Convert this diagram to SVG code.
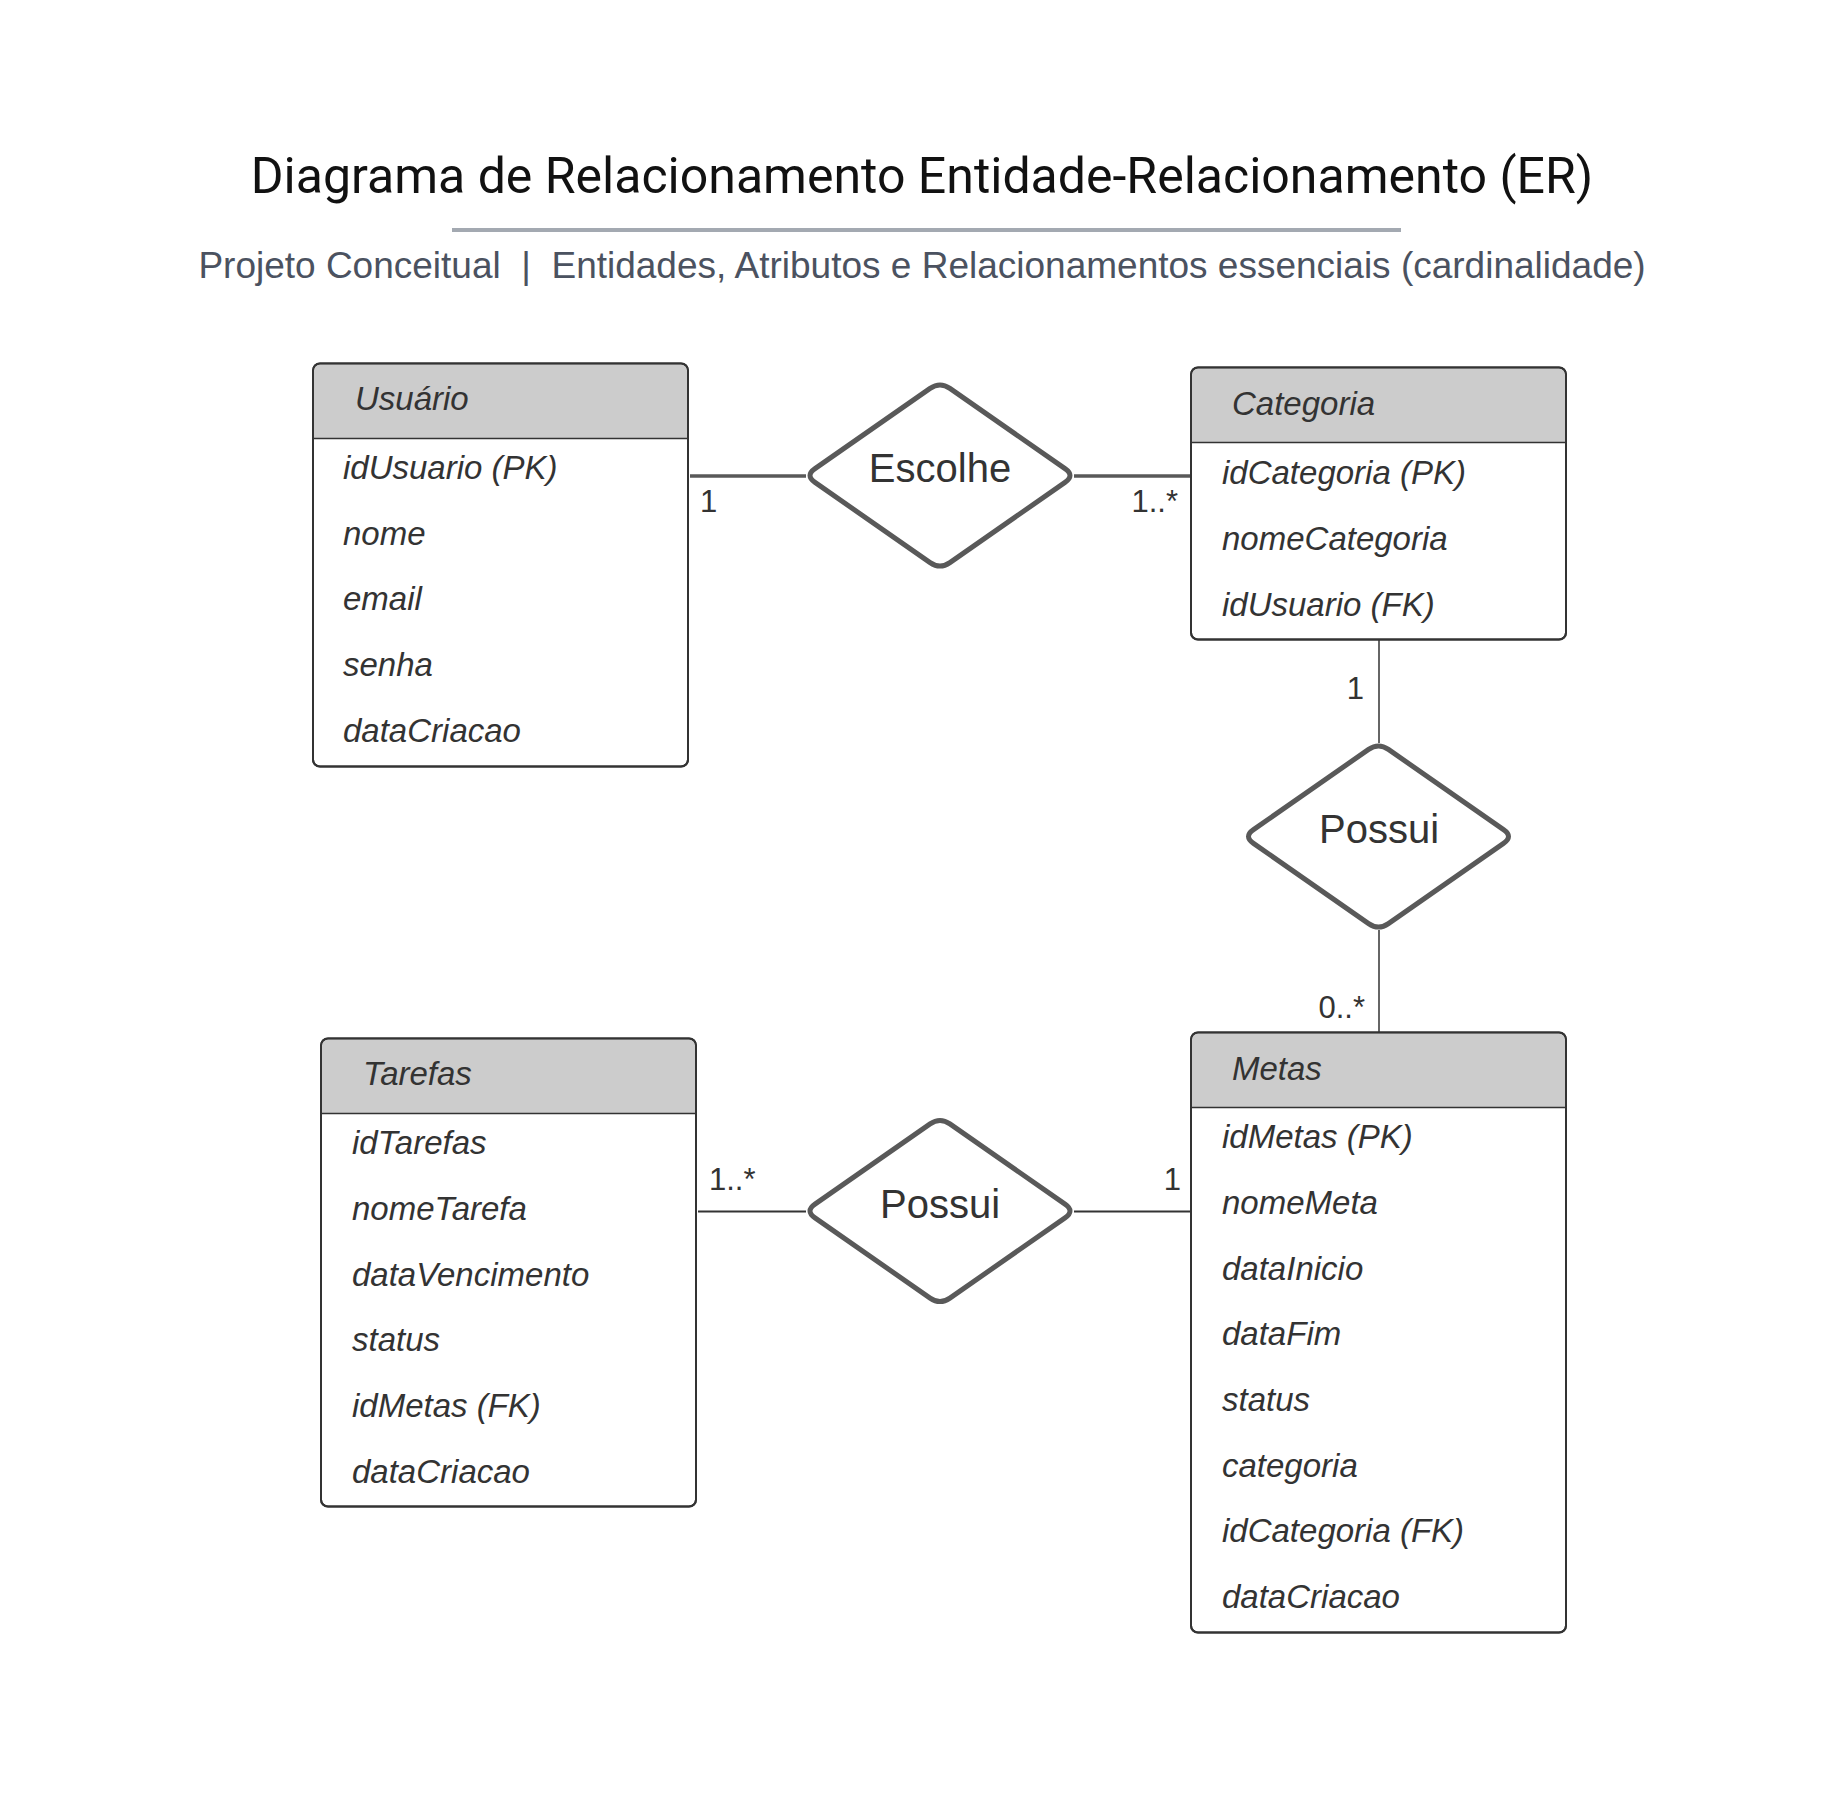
<svg xmlns="http://www.w3.org/2000/svg" width="1839" height="1796" viewBox="0 0 1839 1796">
<style>
.title{font-family:Roboto,"Liberation Sans",sans-serif;font-size:50px;fill:#111111}
.sub{font-family:"Liberation Sans",Arial,sans-serif;font-size:37px;fill:#4B5260;white-space:pre}
.box{fill:#FFFFFF;stroke:#333333;stroke-width:2}
.hdr{fill:#CCCCCC}
.sep{stroke:#333333;stroke-width:1.5}
.ent{font-family:"Liberation Sans",Arial,sans-serif;font-size:33px;font-style:italic;fill:#333333}
.rel{font-family:"Liberation Sans",Arial,sans-serif;font-size:40px;fill:#333333;text-anchor:middle}
.card{font-family:"Liberation Sans",Arial,sans-serif;font-size:31px;fill:#333333}
.thick{stroke:#595959;stroke-width:3.5;fill:none}
.thin{stroke:#333333;stroke-width:1.5;fill:none}
.dia{fill:#FFFFFF;stroke:#595959;stroke-width:5;stroke-linejoin:round}
</style>
<defs>
<path id="diamond" d="M -125,-6.9 L -9.9,-87.1 Q 0,-94 9.9,-87.1 L 125,-6.9 Q 135,0 125,6.9 L 9.9,87.1 Q 0,94 -9.9,87.1 L -125,6.9 Q -135,0 -125,-6.9 Z"/>
</defs>
<rect x="0" y="0" width="1839" height="1796" fill="#FFFFFF"/>

<g id="header">
<text class="title" x="922" y="193" text-anchor="middle">Diagrama de Relacionamento Entidade-Relacionamento (ER)</text>
<line x1="452" y1="230" x2="1401" y2="230" stroke="#A3A9B1" stroke-width="4"/>
<text class="sub" x="922" y="278" text-anchor="middle">Projeto Conceitual  |  Entidades, Atributos e Relacionamentos essenciais (cardinalidade)</text>
</g>

<g id="connectors">
<line class="thick" x1="690" y1="476" x2="806" y2="476"/>
<line class="thick" x1="1074" y1="476" x2="1191" y2="476"/>
<line class="thin" x1="1379" y1="639" x2="1379" y2="743"/>
<line class="thin" x1="1379" y1="930" x2="1379" y2="1032"/>
<line class="thin" x1="698" y1="1211.5" x2="806" y2="1211.5" style="stroke-width:2"/>
<line class="thin" x1="1074" y1="1211.5" x2="1191" y2="1211.5" style="stroke-width:2"/>
<text class="card" x="700" y="512">1</text>
<text class="card" x="1178" y="512" text-anchor="end">1..*</text>
<text class="card" x="1364" y="699" text-anchor="end">1</text>
<text class="card" x="1365" y="1018" text-anchor="end">0..*</text>
<text class="card" x="709" y="1190">1..*</text>
<text class="card" x="1181" y="1190" text-anchor="end">1</text>
</g>

<g id="usuario">
<rect class="box" x="313" y="363.5" width="375" height="403" rx="7"/>
<path class="hdr" d="M 320,364.5 H 681 A 6 6 0 0 1 687,370.5 V 438 H 314 V 370.5 A 6 6 0 0 1 320,364.5 Z"/>
<line class="sep" x1="313" y1="438.5" x2="688" y2="438.5"/>
<rect x="313" y="363.5" width="375" height="403" rx="7" fill="none" stroke="#333333" stroke-width="2"/>
<text class="ent" x="355" y="410">Usuário</text>
<text class="ent" x="343" y="479">idUsuario (PK)</text>
<text class="ent" x="343" y="545">nome</text>
<text class="ent" x="343" y="610">email</text>
<text class="ent" x="343" y="676">senha</text>
<text class="ent" x="343" y="742">dataCriacao</text>
</g>

<g id="categoria">
<rect class="box" x="1191" y="367.5" width="375" height="272" rx="7"/>
<path class="hdr" d="M 1198,368.5 H 1559 A 6 6 0 0 1 1565,374.5 V 442 H 1192 V 374.5 A 6 6 0 0 1 1198,368.5 Z"/>
<line class="sep" x1="1191" y1="442.5" x2="1566" y2="442.5"/>
<rect x="1191" y="367.5" width="375" height="272" rx="7" fill="none" stroke="#333333" stroke-width="2"/>
<text class="ent" x="1232" y="415">Categoria</text>
<text class="ent" x="1222" y="484">idCategoria (PK)</text>
<text class="ent" x="1222" y="550">nomeCategoria</text>
<text class="ent" x="1222" y="616">idUsuario (FK)</text>
</g>

<g id="escolhe">
<use href="#diamond" x="940" y="475.5" class="dia"/>
<text class="rel" x="940" y="482">Escolhe</text>
</g>

<g id="possui-categoria-metas">
<use href="#diamond" x="1378.5" y="836.5" class="dia"/>
<text class="rel" x="1379" y="843">Possui</text>
</g>

<g id="possui-metas-tarefas">
<use href="#diamond" x="940" y="1211" class="dia"/>
<text class="rel" x="940" y="1218">Possui</text>
</g>

<g id="tarefas">
<rect class="box" x="321" y="1038.5" width="375" height="468" rx="7"/>
<path class="hdr" d="M 328,1039.5 H 689 A 6 6 0 0 1 695,1045.5 V 1113 H 322 V 1045.5 A 6 6 0 0 1 328,1039.5 Z"/>
<line class="sep" x1="321" y1="1113.5" x2="696" y2="1113.5"/>
<rect x="321" y="1038.5" width="375" height="468" rx="7" fill="none" stroke="#333333" stroke-width="2"/>
<text class="ent" x="363" y="1085">Tarefas</text>
<text class="ent" x="352" y="1154">idTarefas</text>
<text class="ent" x="352" y="1220">nomeTarefa</text>
<text class="ent" x="352" y="1286">dataVencimento</text>
<text class="ent" x="352" y="1351">status</text>
<text class="ent" x="352" y="1417">idMetas (FK)</text>
<text class="ent" x="352" y="1483">dataCriacao</text>
</g>

<g id="metas">
<rect class="box" x="1191" y="1032.5" width="375" height="600" rx="7"/>
<path class="hdr" d="M 1198,1033.5 H 1559 A 6 6 0 0 1 1565,1039.5 V 1107 H 1192 V 1039.5 A 6 6 0 0 1 1198,1033.5 Z"/>
<line class="sep" x1="1191" y1="1107.5" x2="1566" y2="1107.5"/>
<rect x="1191" y="1032.5" width="375" height="600" rx="7" fill="none" stroke="#333333" stroke-width="2"/>
<text class="ent" x="1232" y="1080">Metas</text>
<text class="ent" x="1222" y="1148">idMetas (PK)</text>
<text class="ent" x="1222" y="1214">nomeMeta</text>
<text class="ent" x="1222" y="1280">dataInicio</text>
<text class="ent" x="1222" y="1345">dataFim</text>
<text class="ent" x="1222" y="1411">status</text>
<text class="ent" x="1222" y="1477">categoria</text>
<text class="ent" x="1222" y="1542">idCategoria (FK)</text>
<text class="ent" x="1222" y="1608">dataCriacao</text>
</g>
</svg>
